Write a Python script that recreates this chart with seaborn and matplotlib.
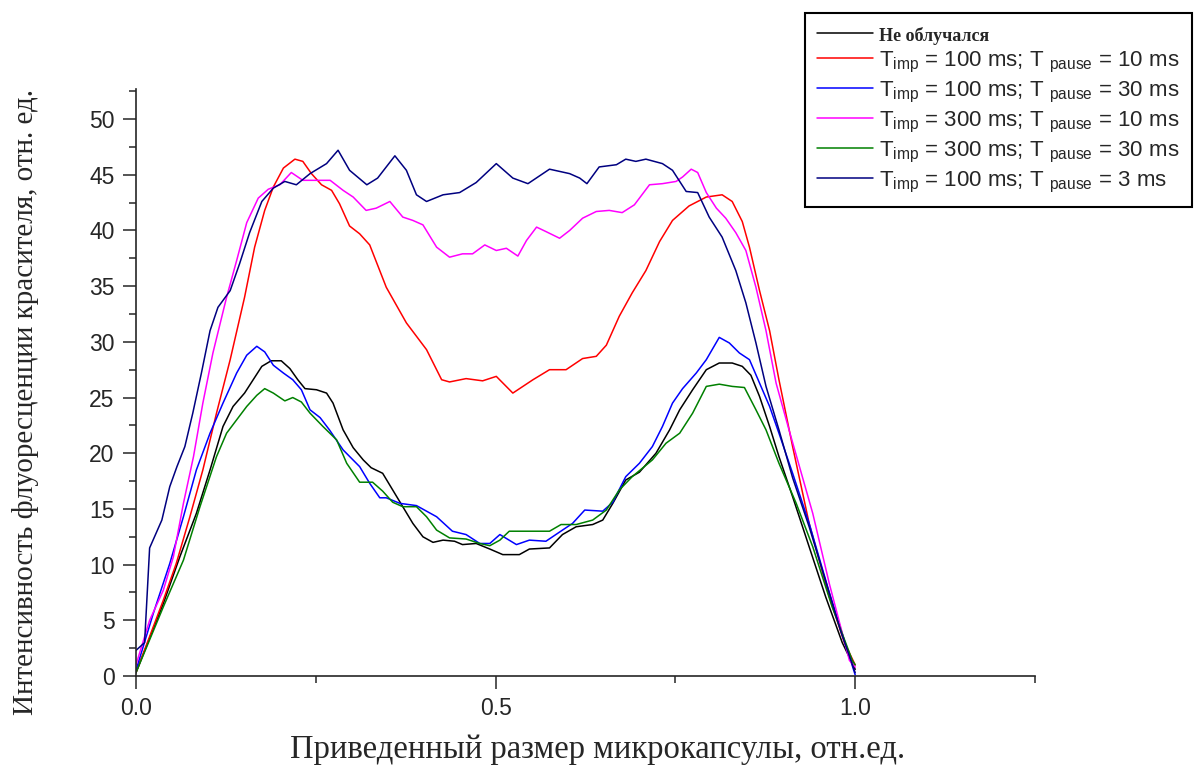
import numpy as np
import pandas as pd
import seaborn as sns
import matplotlib.pyplot as plt
from matplotlib.ticker import MultipleLocator, FormatStrFormatter

# series: x = normalized capsule size, y = intensity
x_black = [0.0, 0.038, 0.061, 0.084, 0.103, 0.121, 0.135, 0.151, 0.163, 0.175, 0.188, 0.202, 0.214,
           0.225, 0.235, 0.251, 0.265, 0.274, 0.288, 0.302, 0.316, 0.327, 0.343, 0.357, 0.371, 0.385,
           0.399, 0.413, 0.427, 0.443, 0.454, 0.473, 0.492, 0.51, 0.533, 0.547, 0.575, 0.593, 0.612,
           0.635, 0.649, 0.663, 0.681, 0.7, 0.723, 0.742, 0.756, 0.774, 0.793, 0.811, 0.829, 0.843,
           0.855, 0.867, 0.881, 0.894, 0.913, 0.936, 0.959, 0.982, 1.0]
y_black = [0.3, 6.5, 10.7, 14.6, 18.5, 22.4, 24.2, 25.4, 26.6, 27.8, 28.3, 28.3, 27.6,
           26.6, 25.8, 25.7, 25.4, 24.5, 22.1, 20.5, 19.4, 18.7, 18.2, 16.7, 15.2, 13.7,
           12.5, 12.0, 12.2, 12.1, 11.8, 11.9, 11.4, 10.9, 10.9, 11.4, 11.5, 12.7, 13.4,
           13.6, 14.0, 15.5, 17.6, 18.3, 20.0, 22.1, 23.9, 25.7, 27.5, 28.1, 28.1, 27.8,
           27.0, 25.1, 22.4, 19.7, 16.1, 11.6, 7.1, 3.0, 0.6]

x_red = [0.0, 0.038, 0.056, 0.075, 0.093, 0.112, 0.131, 0.151, 0.165, 0.179, 0.191, 0.205, 0.221,
         0.232, 0.244, 0.258, 0.272, 0.283, 0.297, 0.311, 0.325, 0.348, 0.376, 0.404, 0.425, 0.436,
         0.459, 0.482, 0.501, 0.524, 0.552, 0.575, 0.598, 0.621, 0.64, 0.654, 0.672, 0.69, 0.709,
         0.728, 0.746, 0.769, 0.793, 0.815, 0.829, 0.843, 0.853, 0.867, 0.881, 0.894, 0.913, 0.936,
         0.964, 0.985, 1.0]
y_red = [0.3, 6.8, 10.1, 14.3, 18.5, 23.6, 28.4, 34.0, 38.5, 41.8, 43.9, 45.6, 46.4,
         46.2, 45.1, 44.1, 43.6, 42.4, 40.4, 39.7, 38.7, 34.9, 31.7, 29.3, 26.6, 26.4,
         26.7, 26.5, 26.9, 25.4, 26.6, 27.5, 27.5, 28.5, 28.7, 29.7, 32.3, 34.4, 36.4,
         39.0, 40.9, 42.2, 43.0, 43.2, 42.6, 40.8, 38.5, 34.6, 31.0, 26.6, 20.6, 13.7,
         7.1, 3.0, 1.0]

x_blue = [0.0, 0.024, 0.047, 0.066, 0.084, 0.103, 0.121, 0.14, 0.154, 0.168, 0.179, 0.191, 0.205,
          0.218, 0.23, 0.242, 0.256, 0.269, 0.288, 0.311, 0.325, 0.339, 0.348, 0.367, 0.39, 0.418,
          0.44, 0.459, 0.478, 0.492, 0.506, 0.529, 0.547, 0.57, 0.593, 0.607, 0.624, 0.649, 0.663,
          0.681, 0.7, 0.718, 0.732, 0.746, 0.76, 0.779, 0.793, 0.811, 0.825, 0.839, 0.853, 0.867,
          0.881, 0.894, 0.913, 0.936, 0.964, 1.0]
y_blue = [0.5, 5.6, 10.1, 14.3, 18.5, 21.8, 24.5, 27.2, 28.8, 29.6, 29.1, 27.9, 27.2,
          26.6, 25.7, 23.9, 23.2, 22.1, 20.3, 18.8, 17.3, 16.0, 16.0, 15.5, 15.3, 14.3,
          13.0, 12.7, 11.9, 11.9, 12.7, 11.8, 12.2, 12.1, 13.1, 13.7, 14.9, 14.8, 15.6,
          17.9, 19.1, 20.6, 22.4, 24.5, 25.8, 27.2, 28.4, 30.4, 29.9, 29.0, 28.4, 26.3,
          24.2, 21.8, 18.2, 13.7, 7.5, 0.1]

x_magenta = [0.0, 0.019, 0.038, 0.052, 0.066, 0.08, 0.093, 0.107, 0.126, 0.14, 0.154, 0.17, 0.184,
             0.2, 0.216, 0.232, 0.246, 0.27, 0.288, 0.302, 0.32, 0.334, 0.353, 0.371, 0.385, 0.399,
             0.418, 0.436, 0.454, 0.468, 0.485, 0.501, 0.515, 0.531, 0.543, 0.557, 0.57, 0.589, 0.603,
             0.621, 0.64, 0.658, 0.676, 0.693, 0.714, 0.732, 0.751, 0.76, 0.772, 0.781, 0.793, 0.807,
             0.82, 0.834, 0.848, 0.862, 0.876, 0.89, 0.908, 0.941, 0.964, 0.992, 1.0]
y_magenta = [1.0, 5.0, 7.7, 10.7, 15.5, 19.7, 24.5, 29.0, 34.0, 37.3, 40.7, 42.9, 43.7,
             44.1, 45.2, 44.5, 44.5, 44.5, 43.6, 43.0, 41.8, 42.0, 42.6, 41.2, 40.9, 40.5,
             38.5, 37.6, 37.9, 37.9, 38.7, 38.2, 38.4, 37.7, 39.1, 40.3, 39.9, 39.3, 40.0,
             41.1, 41.7, 41.8, 41.6, 42.3, 44.1, 44.2, 44.4, 44.8, 45.5, 45.2, 43.4, 42.0,
             41.1, 39.8, 38.2, 34.9, 31.0, 26.3, 22.1, 14.6, 8.3, 1.4, 0.8]

x_green = [0.0, 0.038, 0.066, 0.089, 0.112, 0.126, 0.14, 0.154, 0.168, 0.179, 0.191, 0.207, 0.218,
           0.23, 0.242, 0.26, 0.279, 0.293, 0.311, 0.329, 0.343, 0.357, 0.371, 0.39, 0.404, 0.418,
           0.436, 0.459, 0.478, 0.492, 0.506, 0.519, 0.547, 0.575, 0.591, 0.612, 0.635, 0.654, 0.672,
           0.69, 0.718, 0.737, 0.756, 0.774, 0.793, 0.811, 0.829, 0.846, 0.862, 0.876, 0.894, 0.918,
           0.941, 0.968, 0.996, 1.0]
y_green = [0.3, 6.2, 10.4, 15.2, 19.7, 21.8, 23.0, 24.2, 25.2, 25.8, 25.4, 24.7, 25.0,
           24.6, 23.6, 22.4, 21.2, 19.1, 17.4, 17.4, 16.6, 15.6, 15.2, 15.2, 14.3, 13.1,
           12.4, 12.3, 11.9, 11.7, 12.2, 13.0, 13.0, 13.0, 13.6, 13.6, 14.0, 14.9, 16.7,
           17.9, 19.4, 20.9, 21.8, 23.6, 26.0, 26.2, 26.0, 25.9, 23.9, 22.1, 19.1, 15.5,
           11.6, 6.2, 1.4, 1.0]

x_navy = [0.0, 0.012, 0.019, 0.036, 0.047, 0.057, 0.068, 0.079, 0.091, 0.103, 0.114, 0.131, 0.144,
          0.158, 0.175, 0.191, 0.207, 0.223, 0.242, 0.265, 0.281, 0.297, 0.321, 0.336, 0.36, 0.376,
          0.39, 0.404, 0.427, 0.45, 0.473, 0.501, 0.524, 0.545, 0.575, 0.603, 0.617, 0.627, 0.644,
          0.668, 0.681, 0.695, 0.709, 0.732, 0.746, 0.765, 0.781, 0.797, 0.815, 0.834, 0.848, 0.862,
          0.876, 0.894, 0.913, 0.936, 0.96, 0.98, 1.0]
y_navy = [2.3, 3.0, 11.5, 14.0, 17.0, 18.8, 20.6, 23.6, 27.2, 31.0, 33.1, 34.6, 37.0,
          39.8, 42.6, 43.8, 44.4, 44.1, 45.1, 46.0, 47.2, 45.4, 44.1, 44.7, 46.7, 45.4,
          43.2, 42.6, 43.2, 43.4, 44.3, 46.0, 44.7, 44.2, 45.5, 45.1, 44.7, 44.2, 45.7,
          45.9, 46.4, 46.2, 46.4, 46.0, 45.4, 43.5, 43.4, 41.2, 39.4, 36.4, 33.5, 29.9,
          26.0, 22.1, 17.8, 13.4, 8.3, 4.0, 0.3]

labels = [
    "Не облучался",
    r"T$_{\mathrm{imp}}$ = 100 ms; T $_{\mathrm{pause}}$ = 10 ms",
    r"T$_{\mathrm{imp}}$ = 100 ms; T $_{\mathrm{pause}}$ = 30 ms",
    r"T$_{\mathrm{imp}}$ = 300 ms; T $_{\mathrm{pause}}$ = 10 ms",
    r"T$_{\mathrm{imp}}$ = 300 ms; T $_{\mathrm{pause}}$ = 30 ms",
    r"T$_{\mathrm{imp}}$ = 100 ms; T $_{\mathrm{pause}}$ = 3 ms",
]
colors = ["#000000", "#ff0000", "#0000ff", "#ff00ff", "#008000", "#000080"]
xs = [x_black, x_red, x_blue, x_magenta, x_green, x_navy]
ys = [y_black, y_red, y_blue, y_magenta, y_green, y_navy]

df = pd.concat([pd.DataFrame({"x": x, "y": y, "series": lab}) for x, y, lab in zip(xs, ys, labels)],
               ignore_index=True)

sns.set_style("ticks")
plt.rcParams["font.family"] = ["Liberation Sans", "DejaVu Sans"]
plt.rcParams["mathtext.fontset"] = "custom"
plt.rcParams["mathtext.rm"] = "Liberation Sans"

fig = plt.figure(figsize=(12, 7.67), dpi=100)
ax = fig.add_axes([0.1133, 0.1186, 0.7492, 0.7654])

sns.lineplot(data=df, x="x", y="y", hue="series", hue_order=labels,
             palette=dict(zip(labels, colors)), estimator=None, sort=False,
             linewidth=1.1, ax=ax)

ax.set_xlim(0, 1.25)
ax.set_ylim(0, 52.7)
ax.xaxis.set_major_locator(MultipleLocator(0.5))
ax.xaxis.set_minor_locator(MultipleLocator(0.25))
ax.xaxis.set_major_formatter(FormatStrFormatter("%.1f"))
ax.yaxis.set_minor_locator(MultipleLocator(2.5))
ax.set_yticks([0, 5, 10, 15, 20, 25, 30, 35, 40, 45, 50])
ax.tick_params(which="major", direction="out", length=9.4, width=1.1, labelsize=16.5, pad=6)
ax.tick_params(which="minor", direction="out", length=5, width=1.1)
for s in ["top", "right"]:
    ax.spines[s].set_visible(False)
for s in ["left", "bottom"]:
    ax.spines[s].set_linewidth(1.2)
    ax.spines[s].set_clip_on(False)

ax.set_xlabel("Приведенный размер микрокапсулы, отн.ед.", family="Liberation Serif", fontsize=23.5)
ax.set_ylabel("Интенсивность флуоресценции красителя, отн. ед.", family="Liberation Serif", fontsize=21)
ax.xaxis.label.set_va("center")
ax.yaxis.label.set_va("center")
ax.xaxis.set_label_coords(598 / 1200, 1 - 750 / 767, transform=fig.transFigure)
ax.yaxis.set_label_coords(26 / 1200, 1 - 402 / 767, transform=fig.transFigure)

handles, labs = ax.get_legend_handles_labels()
ax.get_legend().remove()
leg = fig.legend(handles, labs, loc="upper right", bbox_to_anchor=(1192 / 1200, 1 - 13 / 767),
                 borderaxespad=0, fancybox=False, edgecolor="black", fontsize=16,
                 handlelength=2.5, handletextpad=0.3, labelspacing=0.22, borderpad=0.55,
                 framealpha=1)
leg.get_frame().set_linewidth(1.5)
leg.get_texts()[0].set_fontproperties({"family": "Liberation Serif", "weight": "bold", "size": 13})

fig.savefig("out.png", dpi=100)
